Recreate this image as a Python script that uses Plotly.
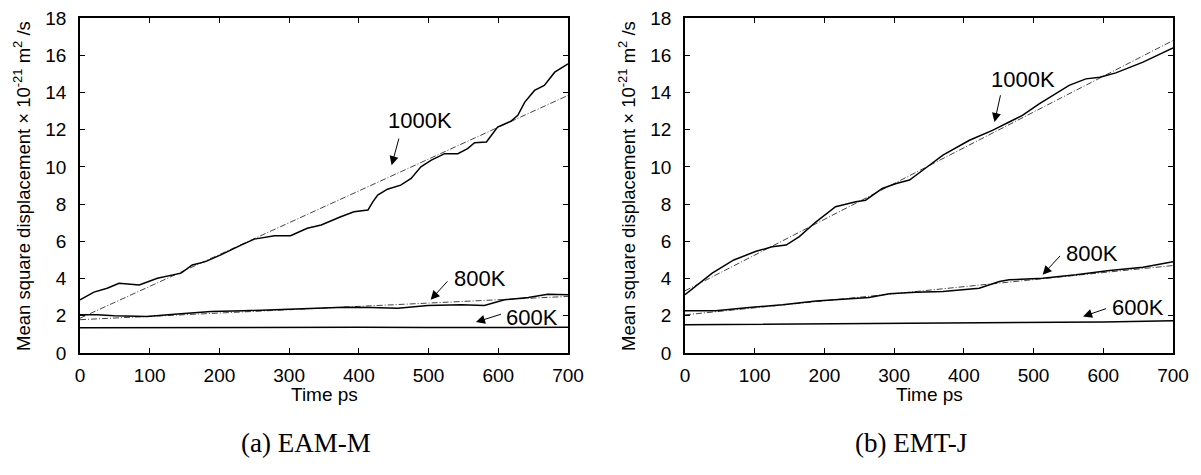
import plotly.graph_objects as go

# ---------------- data ----------------
# (a) EAM-M
t_eam_1000 = [0, 20, 39, 56, 85, 111, 145, 161, 180, 202, 231, 250, 279, 302, 326, 346, 374, 393, 413,
              420, 427, 441, 460, 475, 489, 504, 523, 542, 556, 566, 583, 599, 618, 628, 638, 652, 666, 681, 700]
msd_eam_1000 = [2.86, 3.27, 3.48, 3.75, 3.66, 4.02, 4.29, 4.73, 4.91, 5.27, 5.80, 6.12, 6.30, 6.30, 6.70,
                6.88, 7.32, 7.59, 7.68, 8.12, 8.48, 8.80, 9.02, 9.38, 10.0, 10.36, 10.71, 10.71, 10.98,
                11.30, 11.34, 12.14, 12.45, 12.77, 13.48, 14.11, 14.38, 15.09, 15.54]
t_eam_800 = [0, 25, 49, 96, 140, 188, 235, 283, 331, 379, 417, 456, 499, 547, 580, 609, 643, 671, 700]
msd_eam_800 = [2.05, 2.05, 2.00, 1.96, 2.10, 2.23, 2.27, 2.32, 2.41, 2.46, 2.45, 2.41, 2.55, 2.59, 2.55,
               2.86, 2.98, 3.16, 3.13]
t_eam_600 = [0, 100, 200, 300, 400, 500, 600, 700]
msd_eam_600 = [1.36, 1.37, 1.37, 1.37, 1.38, 1.37, 1.38, 1.38]
fit_eam_1000_t = [0, 700]
fit_eam_1000_v = [1.87, 13.84]
fit_eam_800_t = [0, 700]
fit_eam_800_v = [1.79, 3.04]

# (b) EMT-J
t_emt_1000 = [0, 15, 39, 70, 101, 125, 145, 164, 188, 216, 245, 259, 283, 303, 322, 341, 370, 408, 441,
              465, 484, 508, 527, 551, 575, 595, 618, 657, 700]
msd_emt_1000 = [3.13, 3.57, 4.29, 5.00, 5.45, 5.71, 5.80, 6.25, 7.05, 7.86, 8.13, 8.21, 8.84, 9.11, 9.29,
                9.82, 10.63, 11.43, 11.96, 12.41, 12.77, 13.39, 13.84, 14.38, 14.73, 14.82, 15.05,
                15.63, 16.39]
t_emt_800 = [0, 44, 92, 140, 188, 235, 264, 293, 331, 370, 422, 451, 465, 513, 561, 609, 657, 700]
msd_emt_800 = [2.27, 2.27, 2.45, 2.59, 2.80, 2.91, 2.98, 3.18, 3.27, 3.30, 3.48, 3.84, 3.93, 4.02, 4.20,
               4.43, 4.61, 4.91]
t_emt_600 = [0, 100, 200, 300, 400, 500, 600, 700]
msd_emt_600 = [1.52, 1.54, 1.55, 1.60, 1.61, 1.63, 1.67, 1.73]
fit_emt_1000_t = [0, 700]
fit_emt_1000_v = [3.34, 16.79]
fit_emt_800_t = [0, 700]
fit_emt_800_v = [2.05, 4.70]

x_ticks = [0, 100, 200, 300, 400, 500, 600, 700]
y_ticks = [0, 2, 4, 6, 8, 10, 12, 14, 16, 18]

# labels: (text, label_t, label_v, arrow_tail_t, arrow_tail_v, arrow_head_t, arrow_head_v)
labels_eam = [("1000K", 488, 12.47, 458, 11.6, 447, 10.09),
              ("800K", 574, 3.98, 529, 3.93, 503, 2.86),
              ("600K", 648, 1.93, 606, 2.11, 568, 1.66)]
labels_emt = [("1000K", 485, 14.72, 453, 13.93, 444, 12.41),
              ("800K", 584, 5.32, 540, 5.30, 513, 4.20),
              ("600K", 650, 2.47, 606, 2.41, 571, 1.96)]

captions = ["(a) EAM-M", "(b) EMT-J"]
x_title = "Time ps"
y_title = "Mean square displacement \u00d7 10<sup>-21</sup> m<sup>2</sup> /s"

# ---------------- figure ----------------
# the page body adds an 8px margin, so work in window pixels minus that offset
OFF = 8
W, H = 1201 - 2 * OFF, 475 - 2 * OFF
fig = go.Figure()

solid = dict(color="black", width=1.5)
fitline = dict(color="#444444", width=1, dash="6px,2px,1px,2px")

panels = [
    ("x", "y", [(t_eam_1000, msd_eam_1000), (t_eam_800, msd_eam_800), (t_eam_600, msd_eam_600)],
     [(fit_eam_1000_t, fit_eam_1000_v), (fit_eam_800_t, fit_eam_800_v)], labels_eam),
    ("x2", "y2", [(t_emt_1000, msd_emt_1000), (t_emt_800, msd_emt_800), (t_emt_600, msd_emt_600)],
     [(fit_emt_1000_t, fit_emt_1000_v), (fit_emt_800_t, fit_emt_800_v)], labels_emt),
]

FONT = "Liberation Sans, Arial, sans-serif"
annotations = []
for xa, ya, curves, fits, labs in panels:
    for tx, vy in fits:
        fig.add_trace(go.Scatter(x=tx, y=vy, mode="lines", line=fitline, xaxis=xa, yaxis=ya,
                                 showlegend=False, hoverinfo="skip"))
    for tx, vy in curves:
        fig.add_trace(go.Scatter(x=tx, y=vy, mode="lines", line=solid, xaxis=xa, yaxis=ya,
                                 showlegend=False))
    for text, lt, lv, at, av, ht, hv in labs:
        annotations.append(dict(x=ht, y=hv, ax=at, ay=av, xref=xa, yref=ya, axref=xa, ayref=ya,
                                text="", showarrow=True, arrowhead=2, arrowsize=1.8,
                                arrowwidth=1, arrowcolor="black"))
        annotations.append(dict(x=lt, y=lv, xref=xa, yref=ya, text=text, showarrow=False,
                                xanchor="center", yanchor="middle",
                                font=dict(family=FONT, size=22, color="black")))

# pixel geometry (window pixels)
px_l = [(80, 568), (685, 1173)]
py_top, py_bot = 18, 353


def fx(px):
    return (px - OFF) / W


def fy(py):
    return (H - (py - OFF)) / H


yd = [fy(py_bot), fy(py_top)]

axis_common = dict(showline=True, linecolor="black", linewidth=1.5, mirror="ticks", ticks="inside",
                   ticklen=5, tickwidth=1, tickcolor="black", showgrid=False, zeroline=False,
                   automargin=False, ticklabeloverflow="allow",
                   tickfont=dict(family=FONT, size=19, color="black"))

for i, (l, r) in enumerate(px_l):
    sfx = "" if i == 0 else "2"
    fig.layout["xaxis" + sfx] = dict(axis_common, domain=[fx(l), fx(r)], range=[0, 700],
                                      tickvals=x_ticks, anchor="y" + sfx, ticklabelstandoff=4)
    fig.layout["yaxis" + sfx] = dict(axis_common, domain=yd, range=[0, 18], tickvals=y_ticks,
                                      anchor="x" + sfx, ticklabelstandoff=8)
    cx = (l + r) / 2
    annotations.append(dict(x=fx(cx), y=fy(394), xref="paper", yref="paper", text=x_title,
                            xanchor="center", yanchor="middle", showarrow=False,
                            font=dict(family=FONT, size=19, color="black")))
    annotations.append(dict(x=fx(22 if i == 0 else 627), y=fy(186), xref="paper",
                            yref="paper", text=y_title, textangle=-90, showarrow=False,
                            xanchor="center", yanchor="middle",
                            font=dict(family=FONT, size=18.5, color="black")))
    annotations.append(dict(x=fx(cx - 18), y=fy(443), xref="paper", yref="paper",
                            text=captions[i], showarrow=False, xanchor="center", yanchor="middle",
                            font=dict(family="Liberation Serif, Times New Roman, serif", size=27,
                                      color="black")))

fig.update_layout(width=W, height=H, margin=dict(l=0, r=0, t=0, b=0), plot_bgcolor="white",
                  paper_bgcolor="white", annotations=annotations, showlegend=False)

fig.write_html("out.html")
